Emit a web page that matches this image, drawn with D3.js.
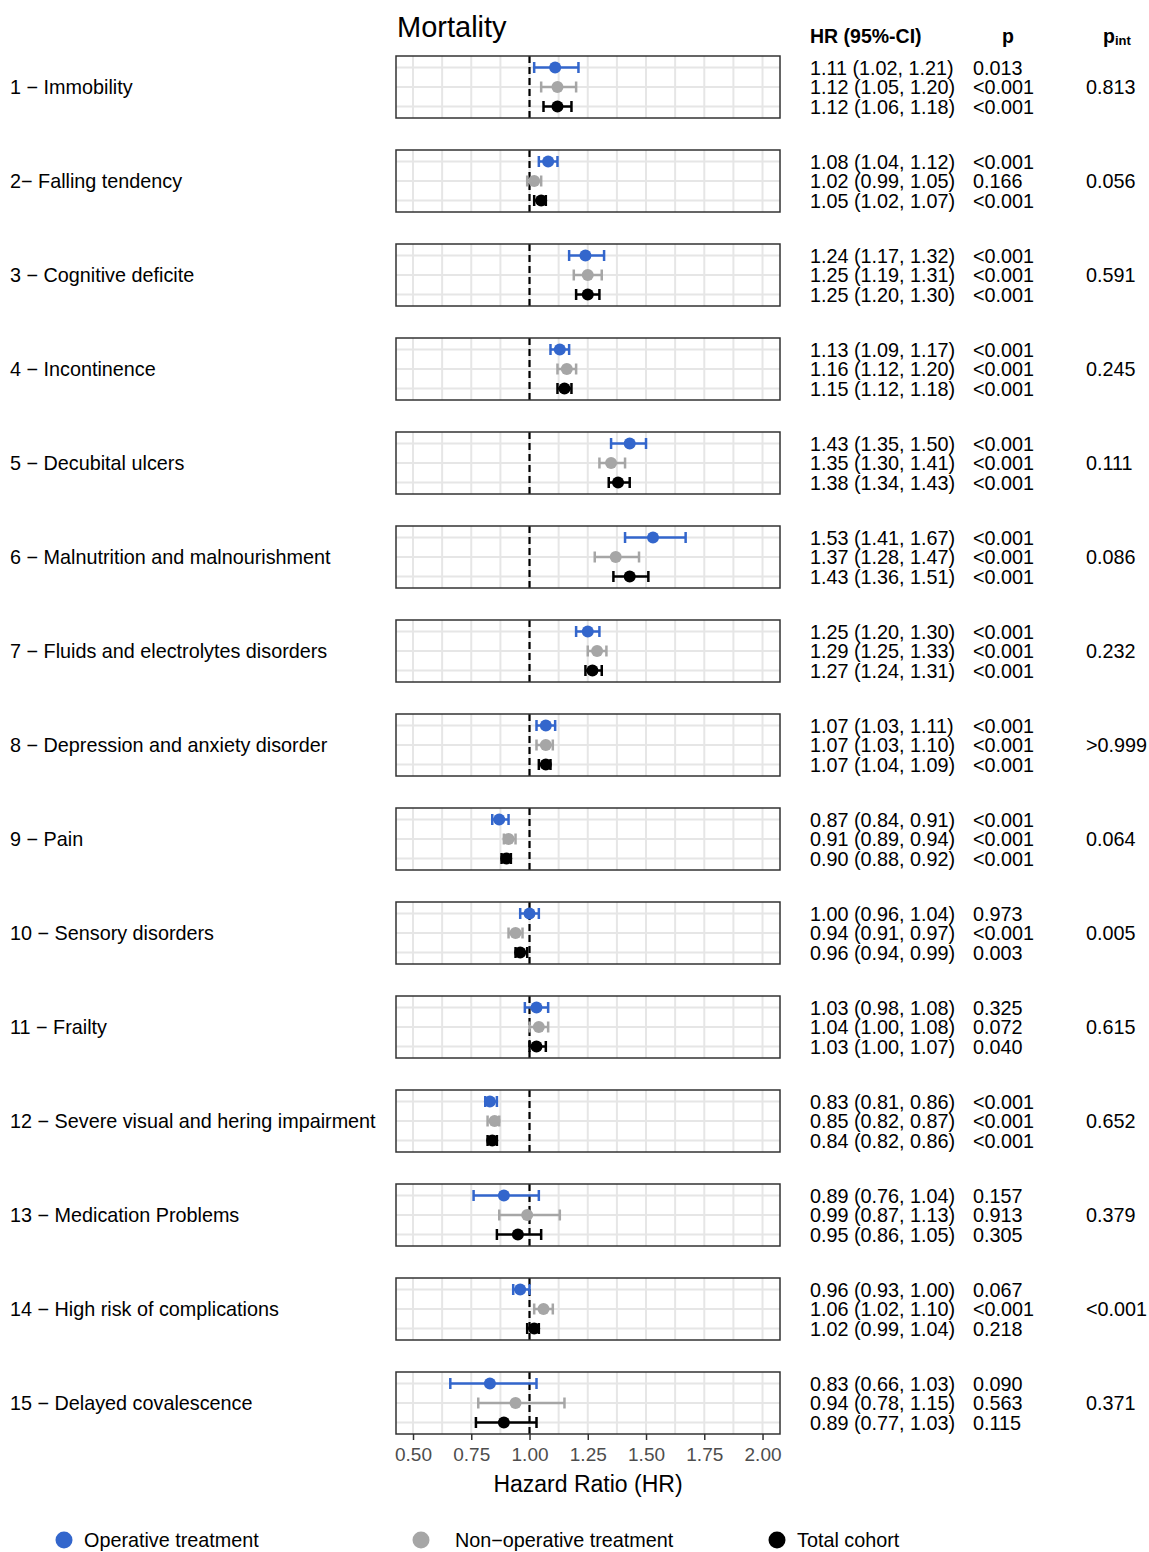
<!DOCTYPE html>
<html>
<head>
<meta charset="utf-8">
<script src="https://cdn.jsdelivr.net/npm/d3@7"></script>
<style>
  body { margin: 0; background: #fff; }
  text { font-family: "Liberation Sans", Arial, sans-serif; }
</style>
</head>
<body>
<script>
// domains (facets)
var domains = [
  "1 \u2212 Immobility",
  "2\u2212 Falling tendency",
  "3 \u2212 Cognitive deficite",
  "4 \u2212 Incontinence",
  "5 \u2212 Decubital ulcers",
  "6 \u2212 Malnutrition and malnourishment",
  "7 \u2212 Fluids and electrolytes disorders",
  "8 \u2212 Depression and anxiety disorder",
  "9 \u2212 Pain",
  "10 \u2212 Sensory disorders",
  "11 \u2212 Frailty",
  "12 \u2212 Severe visual and hering impairment",
  "13 \u2212 Medication Problems",
  "14 \u2212 High risk of complications",
  "15 \u2212 Delayed covalescence"
];

var groups = ["Operative treatment", "Non\u2212operative treatment", "Total cohort"];
var colors = ["#3366cc", "#a6a6a6", "#000000"];

// HR, lower, upper per group (operative, non-operative, total)
var opHR  = [1.11, 1.08, 1.24, 1.13, 1.43, 1.53, 1.25, 1.07, 0.87, 1.00, 1.03, 0.83, 0.89, 0.96, 0.83];
var opLo  = [1.02, 1.04, 1.17, 1.09, 1.35, 1.41, 1.20, 1.03, 0.84, 0.96, 0.98, 0.81, 0.76, 0.93, 0.66];
var opHi  = [1.21, 1.12, 1.32, 1.17, 1.50, 1.67, 1.30, 1.11, 0.91, 1.04, 1.08, 0.86, 1.04, 1.00, 1.03];
var opP   = ["0.013", "<0.001", "<0.001", "<0.001", "<0.001", "<0.001", "<0.001", "<0.001", "<0.001", "0.973", "0.325", "<0.001", "0.157", "0.067", "0.090"];

var nonHR = [1.12, 1.02, 1.25, 1.16, 1.35, 1.37, 1.29, 1.07, 0.91, 0.94, 1.04, 0.85, 0.99, 1.06, 0.94];
var nonLo = [1.05, 0.99, 1.19, 1.12, 1.30, 1.28, 1.25, 1.03, 0.89, 0.91, 1.00, 0.82, 0.87, 1.02, 0.78];
var nonHi = [1.20, 1.05, 1.31, 1.20, 1.41, 1.47, 1.33, 1.10, 0.94, 0.97, 1.08, 0.87, 1.13, 1.10, 1.15];
var nonP  = ["<0.001", "0.166", "<0.001", "<0.001", "<0.001", "<0.001", "<0.001", "<0.001", "<0.001", "<0.001", "0.072", "<0.001", "0.913", "<0.001", "0.563"];

var totHR = [1.12, 1.05, 1.25, 1.15, 1.38, 1.43, 1.27, 1.07, 0.90, 0.96, 1.03, 0.84, 0.95, 1.02, 0.89];
var totLo = [1.06, 1.02, 1.20, 1.12, 1.34, 1.36, 1.24, 1.04, 0.88, 0.94, 1.00, 0.82, 0.86, 0.99, 0.77];
var totHi = [1.18, 1.07, 1.30, 1.18, 1.43, 1.51, 1.31, 1.09, 0.92, 0.99, 1.07, 0.86, 1.05, 1.04, 1.03];
var totP  = ["<0.001", "<0.001", "<0.001", "<0.001", "<0.001", "<0.001", "<0.001", "<0.001", "<0.001", "0.003", "0.040", "<0.001", "0.305", "0.218", "0.115"];

var pInt = ["0.813", "0.056", "0.591", "0.245", "0.111", "0.086", "0.232", ">0.999", "0.064", "0.005", "0.615", "0.652", "0.379", "<0.001", "0.371"];

var xTicks = [0.50, 0.75, 1.00, 1.25, 1.50, 1.75, 2.00];
var xGrid = d3.range(0.5, 2.01, 0.125);

var fmt = d3.format(".2f");

var W = 1149, H = 1552;
var panelL = 396, panelR = 780, panelTop = 56, panelH = 62, panelStep = 94;

var svg = d3.select("body").append("svg")
    .attr("width", W)
    .attr("height", H);

var x = d3.scaleLinear().domain([0.427, 2.075]).range([panelL, panelR]);

var series = [
  {hr: opHR, lo: opLo, hi: opHi, p: opP},
  {hr: nonHR, lo: nonLo, hi: nonHi, p: nonP},
  {hr: totHR, lo: totLo, hi: totHi, p: totP}
];

// title + headers
svg.append("text").attr("x", 397).attr("y", 37)
    .style("font-size", "29px").text("Mortality");
svg.append("text").attr("x", 810).attr("y", 43)
    .style("font-size", "19.5px").style("font-weight", "bold").text("HR (95%-CI)");
svg.append("text").attr("x", 1002).attr("y", 43)
    .style("font-size", "19.5px").style("font-weight", "bold").text("p");
var pint = svg.append("text").attr("x", 1103).attr("y", 43)
    .style("font-size", "19.5px").style("font-weight", "bold");
pint.append("tspan").text("p");
pint.append("tspan").attr("dy", 2).style("font-size", "13px").text("int");

domains.forEach(function(name, i) {
  var top = panelTop + i * panelStep;
  var y = d3.scalePoint().domain(d3.range(3)).range([top + 11.5, top + 50.5]);
  var g = svg.append("g");

  // grid
  g.selectAll(".vg").data(xGrid).enter().append("line")
      .attr("x1", function(d) { return x(d); })
      .attr("x2", function(d) { return x(d); })
      .attr("y1", top).attr("y2", top + panelH)
      .attr("stroke", "#e6e6e6").attr("stroke-width", 2);
  g.selectAll(".hg").data(d3.range(3)).enter().append("line")
      .attr("x1", panelL).attr("x2", panelR)
      .attr("y1", function(d) { return y(d); })
      .attr("y2", function(d) { return y(d); })
      .attr("stroke", "#e6e6e6").attr("stroke-width", 2);

  // reference line
  g.append("line")
      .attr("x1", x(1)).attr("x2", x(1))
      .attr("y1", top).attr("y2", top + panelH)
      .attr("stroke", "#000").attr("stroke-width", 2.2)
      .attr("stroke-dasharray", "7,4");

  // error bars + points
  series.forEach(function(s, k) {
    var yy = y(k), c = colors[k];
    g.append("line")
        .attr("x1", x(s.lo[i])).attr("x2", x(s.hi[i]))
        .attr("y1", yy).attr("y2", yy)
        .attr("stroke", c).attr("stroke-width", 2.5);
    [s.lo[i], s.hi[i]].forEach(function(v) {
      g.append("line")
          .attr("x1", x(v)).attr("x2", x(v))
          .attr("y1", yy - 5.5).attr("y2", yy + 5.5)
          .attr("stroke", c).attr("stroke-width", 2.5);
    });
    g.append("circle")
        .attr("cx", x(s.hr[i])).attr("cy", yy).attr("r", 6)
        .attr("fill", c);

    // text columns
    svg.append("text").attr("x", 810).attr("y", yy + 7)
        .style("font-size", "19.8px")
        .text(fmt(s.hr[i]) + " (" + fmt(s.lo[i]) + ", " + fmt(s.hi[i]) + ")");
    svg.append("text").attr("x", 973).attr("y", yy + 7)
        .style("font-size", "19.8px").text(s.p[i]);
  });

  // panel border
  g.append("rect")
      .attr("x", panelL).attr("y", top)
      .attr("width", panelR - panelL).attr("height", panelH)
      .attr("fill", "none").attr("stroke", "#333").attr("stroke-width", 1.5);

  // row label
  svg.append("text").attr("x", 10).attr("y", y(1) + 7)
      .style("font-size", "19.8px").text(name);
  svg.append("text").attr("x", 1086).attr("y", y(1) + 7)
      .style("font-size", "19.8px").text(pInt[i]);
});

// x axis
var lastBottom = panelTop + 14 * panelStep + panelH;
var ax = svg.append("g")
    .attr("transform", "translate(0," + lastBottom + ")")
    .call(d3.axisBottom(x).tickValues(xTicks).tickFormat(fmt).tickSize(6).tickPadding(8));
ax.select(".domain").remove();
ax.selectAll(".tick line").attr("stroke", "#333").attr("stroke-width", 1.5);
ax.selectAll(".tick text").attr("fill", "#4d4d4d")
    .style("font-size", "19px").style("font-family", "Liberation Sans, Arial, sans-serif");

svg.append("text").attr("x", (panelL + panelR) / 2).attr("y", 1492)
    .attr("text-anchor", "middle").style("font-size", "23px").text("Hazard Ratio (HR)");

// legend
var legX = [64, 421, 777];
var legTextX = [84, 455, 797];
groups.forEach(function(gname, k) {
  svg.append("circle").attr("cx", legX[k]).attr("cy", 1540).attr("r", 8.5).attr("fill", colors[k]);
  svg.append("text").attr("x", legTextX[k]).attr("y", 1547)
      .style("font-size", "19.8px").text(gname);
});
</script>
</body>
</html>
